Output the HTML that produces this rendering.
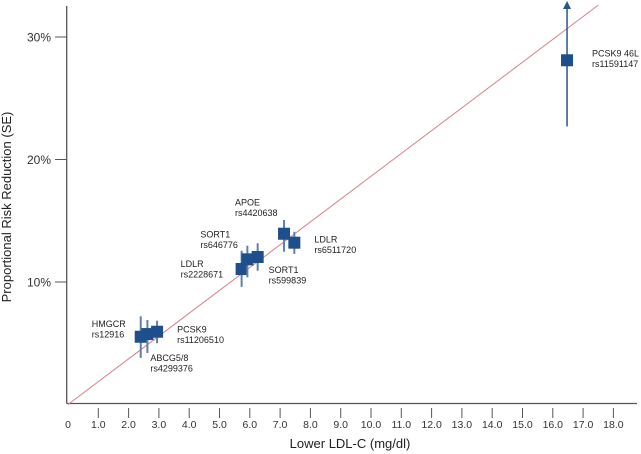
<!DOCTYPE html>
<html><head><meta charset="utf-8"><style>
body{margin:0;background:#fff;}
svg{display:block;font-family:"Liberation Sans",Arial,sans-serif;}
</style></head><body>
<svg id="chart" width="641" height="454" viewBox="0 0 641 454"></svg>
<script>
const names = ["HMGCR","ABCG5/8","PCSK9","LDLR","SORT1","SORT1","APOE","LDLR","PCSK9 46L"];
const snps = ["rs12916","rs4299376","rs11206510","rs2228671","rs646776","rs599839","rs4420638","rs6511720","rs11591147"];
const ldl = [2.40,2.62,2.94,5.73,5.92,6.26,7.13,7.47,16.47];
const risk = [5.53,5.75,5.94,11.06,11.85,12.04,13.94,13.21,28.1];
const lo = [3.8,4.2,5.0,9.6,10.38,10.92,12.47,12.29,22.7];
const hi = [7.2,6.9,6.84,12.55,12.96,13.16,15.06,14.1,32.9];
const xTicks = [0,1,2,3,4,5,6,7,8,9,10,11,12,13,14,15,16,17,18];
const yTicks = [10,20,30];
const lineSlope = [1.863];

const NS="http://www.w3.org/2000/svg";
const svg=document.getElementById('chart');
const X=v=>68+30.3*v;
const Y=p=>404.5-12.25*p;
function mk(t,a,p){const e=document.createElementNS(NS,t);for(const k in a)e.setAttribute(k,a[k]);(p||svg).appendChild(e);return e;}
// label offsets (pixel nudges for annotation text)
const labOff=[[-49,-10],[3,27],[20,1],[-61,-2],[-47,-22],[11,16],[-49,-28],[20,0],[25,-4]];

let e;
e=mk('line',{x1:66.7,y1:6,x2:66.7,y2:403.5,stroke:'#555','stroke-width':1.3});


e=mk('line',{x1:66.7,y1:403.5,x2:637,y2:403.5,stroke:'#555','stroke-width':1.3});



xTicks.forEach(v=>{
  if(v>0){const t=mk('line',{x1:X(v),y1:408,x2:X(v),y2:418,stroke:'#555','stroke-width':1});
  
  }
  const l=mk('text',{x:X(v),y:428,'font-size':10.5,'text-anchor':'middle',fill:'#333'});
  l.textContent=v===0?'0':v.toFixed(1);
  
  
});
yTicks.forEach(p=>{
  const t=mk('line',{x1:55,y1:Y(p),x2:66.7,y2:Y(p),stroke:'#555','stroke-width':1});
  
  
  const l=mk('text',{x:51,y:Y(p)+4.5,'font-size':12,'text-anchor':'end',fill:'#333'});
  l.textContent=p+'%';
  
  
});
e=mk('text',{x:350,y:448,'font-size':13,'text-anchor':'middle',fill:'#222'});
e.textContent='Lower LDL-C (mg/dl)';


e=mk('text',{x:0,y:0,'font-size':13,'text-anchor':'middle',fill:'#222',transform:'translate(11,207) rotate(-90)'});
e.textContent='Proportional Risk Reduction (SE)';



const xEnd=17.5;
e=mk('line',{x1:X(0),y1:Y(0),x2:X(xEnd),y2:Y(xEnd*lineSlope[0]),stroke:'#d98088','stroke-width':1});



ldl.forEach((v,i)=>{
  const cx=X(v),cy=Y(risk[i]);
  const last=i===ldl.length-1;
  const b=mk('line',{x1:cx,y1:Y(lo[i]),x2:cx,y2:last?7:Y(hi[i]),stroke:last?'#2a5590':'#5d80b0','stroke-width':last?1.5:2});
  
  
  if(last){const a=mk('polygon',{points:`${cx-4},9 ${cx+4},9 ${cx},1`,fill:'#2a5590'});
    
    }
  const s=mk('rect',{x:cx-6,y:cy-6,width:12,height:12,fill:'#1f4e8c'});
  
  
  const t=mk('text',{x:cx+labOff[i][0],y:cy+labOff[i][1],'font-size':9,fill:'#222'});
  
  
  const t1=mk('tspan',{x:cx+labOff[i][0]},t);t1.textContent=names[i];
  const t2=mk('tspan',{x:cx+labOff[i][0],dy:10.5},t);t2.textContent=snps[i];
});
</script>
</body></html>
